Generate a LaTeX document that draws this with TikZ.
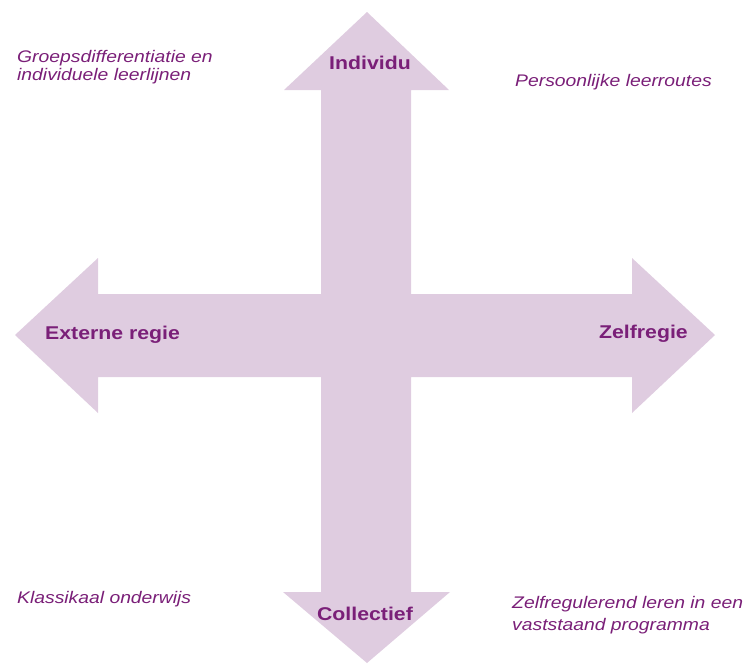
\documentclass[tikz,border=0pt]{standalone}
\usepackage{fontspec}
\newfontfamily\diagfont[FakeStretch=1.15]{Liberation Sans}
\definecolor{crossfill}{HTML}{DFCCE0}
\definecolor{labeltext}{HTML}{7A1F78}
\begin{document}
\begin{tikzpicture}[x=1pt,y=-1pt,line join=miter,
  axislabel/.style={anchor=base,inner sep=0pt,text=labeltext,font=\diagfont\bfseries\fontsize{18.5}{20}\selectfont},
  cornerlabel/.style={anchor=base west,inner sep=0pt,align=left,text=labeltext,font=\diagfont\itshape\fontsize{16.8}{18}\selectfont}]
\useasboundingbox (0,0) rectangle (747,665);
\coordinate (up) at (367,12);
\coordinate (down) at (367,663);
\coordinate (left) at (15,335);
\coordinate (right) at (715,335);
\fill[crossfill] (up) -- (449,90) -- (411,90) -- (411,294) -- (632,294) -- (632,258)
  -- (right) -- (632,413) -- (632,377) -- (411,377) -- (411,592) -- (450,592)
  -- (down) -- (283,592) -- (321,592) -- (321,377) -- (98,377) -- (98,413)
  -- (left) -- (98,258) -- (98,294) -- (321,294) -- (321,90) -- (284,90) -- cycle;
\node[axislabel] (individu) at (370,69) {Individu};
\node[axislabel] (collectief) at (365,620) {Collectief};
\node[axislabel,anchor=base west] (extern) at (45,339) {Externe regie};
\node[axislabel,anchor=base east] (zelf) at (688,338) {Zelfregie};
\node[cornerlabel] (groep) at (17,80) {Groepsdifferentiatie en\\individuele leerlijnen};
\node[cornerlabel] (persoon) at (515,86) {Persoonlijke leerroutes};
\node[cornerlabel] (klassikaal) at (17,603) {Klassikaal onderwijs};
\node[cornerlabel,font=\diagfont\itshape\fontsize{16.8}{22}\selectfont] (zelfreg) at (512,630) {Zelfregulerend leren in een\\vaststaand programma};
\end{tikzpicture}
\end{document}
